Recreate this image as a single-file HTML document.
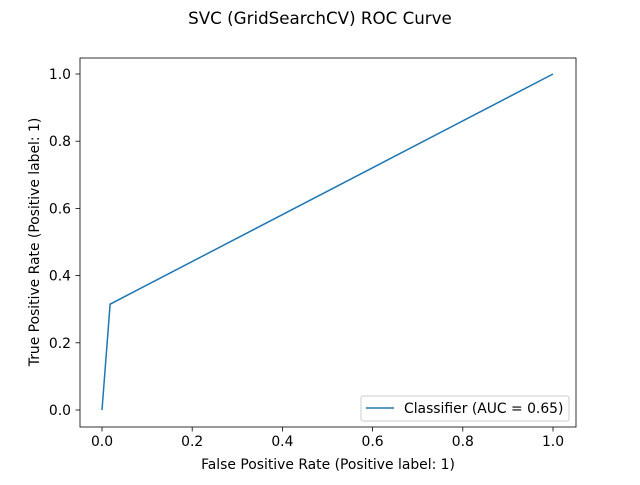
<!DOCTYPE html>
<html><head><meta charset="utf-8"><style>
body{margin:0;background:#fff;}
svg text{font-family:"DejaVu Sans","Liberation Sans",sans-serif;fill:#000;}
</style></head><body>
<svg id="chart" width="640" height="480">
<rect width="640" height="480" fill="#fff"/>
<text x="320" y="24" font-size="16.7" text-anchor="middle">SVC (GridSearchCV) ROC Curve</text>
<g id="xticks"></g>
<g id="yticks"></g>
<polyline id="curve" fill="none" stroke="#1f77b4" stroke-width="1.5"/>
<rect x="80" y="58" width="496" height="369" fill="none" stroke="#000" stroke-width="0.8"/>
<text x="328" y="469" font-size="13.9" text-anchor="middle">False Positive Rate (Positive label: 1)</text>
<text transform="translate(39,242) rotate(-90)" font-size="13.9" text-anchor="middle">True Positive Rate (Positive label: 1)</text>
<g>
<rect x="361" y="396" width="208" height="25" rx="2" fill="#fff" fill-opacity="0.8" stroke="#ccc"/>
<line x1="366" y1="408" x2="394" y2="408" stroke="#1f77b4" stroke-width="1.5"/>
<text x="404" y="413" font-size="13.9">Classifier (AUC = 0.65)</text>
</g>
</svg>
<script>
const fpr=[0,0.018,1];
const tpr=[0,0.315,1];
const ticks=[0,0.2,0.4,0.6,0.8,1.0];
const tickLabels=["0.0","0.2","0.4","0.6","0.8","1.0"];
const NS="http://www.w3.org/2000/svg";
const xs=v=>102+v*451, ys=v=>410-v*336;
const xg=document.getElementById('xticks'), yg=document.getElementById('yticks');
ticks.forEach((t,i)=>{
  let l=document.createElementNS(NS,'line');
  l.setAttribute('x1',xs(t));l.setAttribute('x2',xs(t));l.setAttribute('y1',427);l.setAttribute('y2',431.5);l.setAttribute('stroke','#000');l.setAttribute('stroke-width','0.8');
  
  
  xg.appendChild(l);
  let tx=document.createElementNS(NS,'text');
  tx.setAttribute('x',xs(t));tx.setAttribute('y',446);tx.setAttribute('font-size','13.9');tx.setAttribute('text-anchor','middle');tx.textContent=tickLabels[i];
  
  
  xg.appendChild(tx);
  let l2=document.createElementNS(NS,'line');
  l2.setAttribute('x1',75.5);l2.setAttribute('x2',80);l2.setAttribute('y1',ys(t));l2.setAttribute('y2',ys(t));l2.setAttribute('stroke','#000');l2.setAttribute('stroke-width','0.8');
  
  
  yg.appendChild(l2);
  let ty=document.createElementNS(NS,'text');
  ty.setAttribute('x',71);ty.setAttribute('y',ys(t)+5);ty.setAttribute('font-size','13.9');ty.setAttribute('text-anchor','end');ty.textContent=tickLabels[i];
  
  
  yg.appendChild(ty);
});
document.getElementById('curve').setAttribute('points',fpr.map((f,i)=>xs(f)+','+ys(tpr[i])).join(' '));
</script>
</body></html>
